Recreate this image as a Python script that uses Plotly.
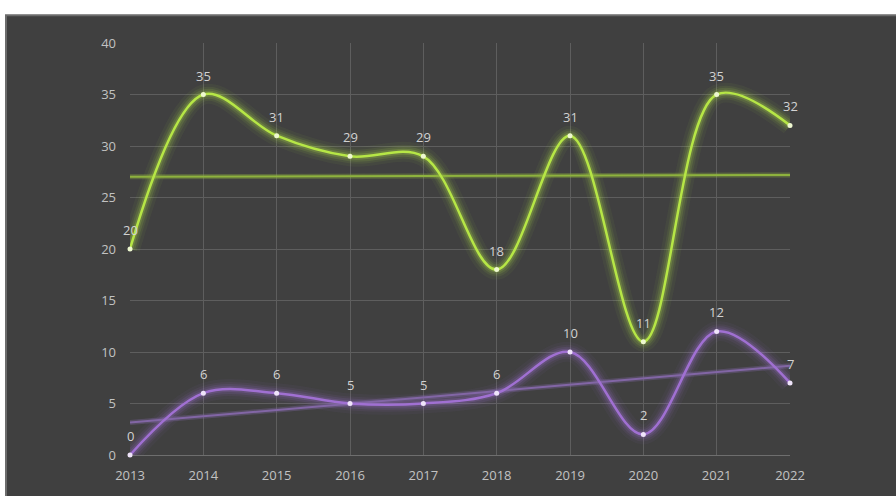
import numpy as np
import plotly.graph_objects as go

years = [2013, 2014, 2015, 2016, 2017, 2018, 2019, 2020, 2021, 2022]
green_values = [20, 35, 31, 29, 29, 18, 31, 11, 35, 32]
purple_values = [0, 6, 6, 5, 5, 6, 10, 2, 12, 7]
y_ticks = [0, 5, 10, 15, 20, 25, 30, 35, 40]

W, H = 896, 496
L, R, T, B = 130, 106, 43, 39
pw, ph = W - L - R, H - T - B


def px_x(p):
    return (p - L) / pw


def px_y(p):
    return (H - B - p) / ph


def trend(xs, ys):
    k, c = np.polyfit(xs, ys, 1)
    return [k * x + c for x in xs]


fig = go.Figure()

series = [
    (green_values, (182, 230, 70), "#eef8d0", (142, 178, 62)),
    (purple_values, (160, 112, 210), "#efe4fa", (130, 102, 165)),
]

for vals, rgb, dot, trend_rgb in series:
    r, g, b = rgb
    # soft glow underneath the smoothed line
    for w, a in [(20, 0.05), (14, 0.08), (10, 0.12), (6, 0.2)]:
        fig.add_trace(go.Scatter(
            x=years, y=vals, mode="lines",
            line=dict(color=f"rgba({r},{g},{b},{a})", width=w,
                      shape="spline", smoothing=1.0),
            hoverinfo="skip", showlegend=False))
    # linear trend
    tr, tg, tb = trend_rgb
    fig.add_trace(go.Scatter(
        x=years, y=trend(years, vals), mode="lines",
        line=dict(color=f"rgba({tr},{tg},{tb},0.35)", width=5),
        hoverinfo="skip", showlegend=False))
    fig.add_trace(go.Scatter(
        x=years, y=trend(years, vals), mode="lines",
        line=dict(color=f"rgb({tr},{tg},{tb})", width=2),
        hoverinfo="skip", showlegend=False))
    fig.add_trace(go.Scatter(
        x=years, y=vals, mode="lines+markers",
        line=dict(color=f"rgb({r},{g},{b})", width=2.5,
                  shape="spline", smoothing=1.0),
        marker=dict(color=dot, size=5),
        cliponaxis=False, showlegend=False))
    # value labels above each point
    for x, v in zip(years, vals):
        fig.add_annotation(x=x, y=v, text=str(v), showarrow=False,
                           xanchor="center", yanchor="bottom", yshift=8,
                           font=dict(color="#d2d2d2", size=13, family="Open Sans"))

# dark panel behind the chart
fig.add_shape(type="rect", xref="paper", yref="paper",
              x0=px_x(6), x1=px_x(W + 10), y0=px_y(H + 10), y1=px_y(15),
              fillcolor="#404040", line=dict(color="#6c6c6c", width=2),
              layer="below")

fig.update_layout(
    width=W, height=H,
    margin=dict(l=L, r=R, t=T, b=B),
    paper_bgcolor="white",
    plot_bgcolor="rgba(0,0,0,0)",
    font=dict(family="Open Sans", color="#c2c2c2", size=13),
    xaxis=dict(range=[2013, 2022], tickvals=years, ticktext=[str(y) for y in years],
               showgrid=True, gridcolor="#5e5e5e", gridwidth=1,
               zeroline=False, showline=False, ticks="", ticklabelstandoff=11,
               tickfont=dict(color="#c2c2c2", size=13)),
    yaxis=dict(range=[0, 40], tickvals=y_ticks,
               showgrid=True, gridcolor="#5e5e5e", gridwidth=1,
               zeroline=True, zerolinecolor="#6e6e6e", zerolinewidth=1,
               showline=False, ticks="", ticklabelstandoff=13,
               tickfont=dict(color="#c2c2c2", size=13)),
)

fig.write_html("out.html")
